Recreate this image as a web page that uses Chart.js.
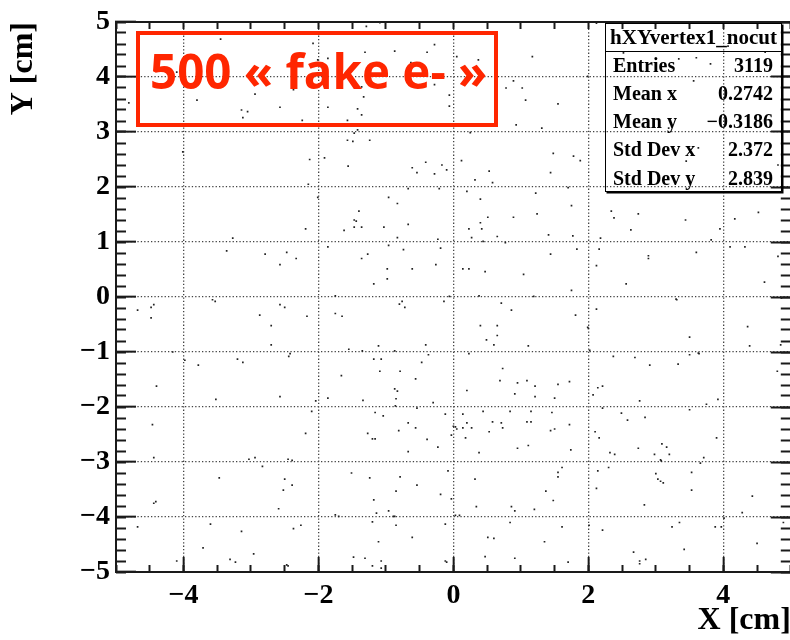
<!DOCTYPE html>
<html>
<head>
<meta charset="utf-8">
<script src="https://cdn.jsdelivr.net/npm/chart.js@4.4.1/dist/chart.umd.min.js"></script>
<style>
  html, body { margin: 0; padding: 0; background: #fff; overflow: hidden; }
  #wrap { position: relative; width: 792px; height: 640px; }
  #tag { position: absolute; left: 136px; top: 31px; width: 362px; height: 96px; box-sizing: border-box; border: 4px solid #ff2600; }
  #tag span { position: absolute; left: 10px; top: 12px; font: 700 47.5px/47.5px 'Open Sans'; color: #ff2600; white-space: nowrap; }
  #stats { position: absolute; left: 605px; top: 23px; width: 177px; height: 169px; box-sizing: border-box;
           border: 1.5px solid #000; box-shadow: 1.5px 1.5px 0 #000; font: bold 20px 'Liberation Serif'; color: #000; }
  #stats .hd { height: 27px; line-height: 27px; text-align: center; border-bottom: 1.5px solid #000; font-size: 21px; }
  #stats .row { position: absolute; left: 7px; right: 8px; height: 28px; line-height: 28px; display: flex; justify-content: space-between; }
</style>
</head>
<body>
<div id="wrap">
  <canvas id="vtx" width="792" height="640"></canvas>
  <div id="tag"></div>
  <div id="stats"></div>
</div>
<script>
// vertex positions [x, y] in cm, grouped by region of the XY plane
const upperLeft = [
  [-3.45, 4.69], [-3.29, 4.78], [-2.08, 4.61], [-2.01, 4.31], [-1.86, 4.34], [-4.21, 4.15], [-4.01, 4.24], [-4.10, 4.09],
  [-2.94, 3.69], [-2.37, 3.77], [-3.80, 3.58], [-4.81, 3.53], [-2.57, 3.45], [-1.86, 3.45], [-3.14, 3.40], [-3.05, 3.37],
  [-3.12, 3.26], [-2.24, 3.21], [-4.01, 2.64], [-2.13, 2.50], [-1.91, 2.53], [-2.15, 2.05], [-2.01, 1.81], [-2.19, 1.24],
  [-3.27, 1.07], [-3.36, 0.84], [-2.79, 0.78], [-2.47, 0.81], [-2.33, 0.70], [-2.57, 0.59], [-1.86, 0.91], [-1.75, 0.02]
];
const upperMid = [
  [-1.09, 4.99], [-1.29, 4.92], [-1.29, 4.80], [-0.28, 4.59], [-1.31, 4.45], [-0.87, 4.47], [-0.39, 4.45], [-0.63, 4.26],
  [0.05, 4.37], [0.37, 4.31], [1.17, 4.37], [0.89, 3.93], [0.78, 3.80], [1.02, 3.80], [1.07, 3.58], [1.55, 3.51],
  [-0.28, 3.86], [-1.36, 3.82], [-1.33, 3.64], [-0.06, 3.67], [-0.06, 3.47], [-1.42, 3.42], [-1.36, 3.31], [-1.57, 3.21],
  [0.93, 3.13], [1.31, 3.07], [0.25, 2.99], [-1.42, 3.04], [-1.47, 2.98], [-1.57, 2.85], [-1.49, 2.83], [-1.24, 2.85],
  [1.48, 2.61], [-1.56, 2.38], [-0.61, 2.35], [-0.54, 2.26], [-0.41, 2.45], [-0.28, 2.24], [-0.17, 2.40], [-0.10, 2.31],
  [0.12, 2.48], [0.53, 2.29], [1.44, 2.26], [0.32, 2.13], [0.58, 2.08], [-0.67, 1.97], [-0.21, 1.97], [0.20, 1.92],
  [1.22, 1.89], [-0.96, 1.81], [-0.83, 1.70], [0.40, 1.78], [-1.40, 1.56], [-1.47, 1.40], [-1.44, 1.38], [-1.47, 1.27],
  [-1.36, 1.27], [-1.62, 1.21], [-1.03, 1.27], [-0.67, 1.32], [0.51, 1.45], [0.89, 1.45], [1.24, 1.51], [0.40, 1.35],
  [0.23, 1.24], [0.42, 1.24], [0.27, 1.08], [0.65, 1.10], [0.44, 1.01], [0.77, 0.99], [1.41, 1.13], [-0.83, 1.08],
  [-0.96, 0.94], [-0.23, 1.05], [-0.19, 0.89], [-0.74, 0.86], [-1.27, 0.78], [-1.36, 0.70], [1.44, 0.78], [-0.26, 0.59],
  [-0.98, 0.51], [-0.61, 0.51], [0.14, 0.51], [0.23, 0.51], [0.47, 0.46], [-0.98, 0.33], [-1.18, 0.24], [1.04, 0.41],
  [0.38, 0.02], [1.19, 0.01], [-0.06, 0.01]
];
const upperRight = [
  [2.12, 4.98], [1.99, 4.01], [3.34, 4.33], [3.60, 4.35], [3.81, 4.24], [3.56, 3.93], [4.62, 4.45], [2.52, 4.44],
  [4.07, 4.56], [3.19, 3.07], [3.63, 2.71], [3.45, 2.47], [4.81, 2.40], [1.78, 2.56], [1.88, 2.48], [1.70, 1.99],
  [1.75, 1.66], [2.34, 1.56], [2.38, 1.44], [2.74, 1.51], [3.44, 1.40], [2.63, 1.22], [3.95, 1.24], [4.17, 1.42],
  [4.52, 1.54], [1.77, 1.11], [2.18, 1.07], [1.83, 0.87], [2.16, 0.87], [2.89, 0.75], [2.89, 0.70], [3.60, 0.81],
  [3.82, 1.04], [4.10, 0.91], [4.32, 0.91], [2.12, 0.57], [2.56, 0.24], [1.75, 0.12], [4.61, 0.27], [4.81, 0.74],
  [3.30, -0.04]
];
const lowerLeft = [
  [-4.68, -0.24], [-4.48, -0.19], [-4.44, -0.14], [-4.48, -0.38], [-3.57, -0.05], [-3.53, -0.08], [-2.87, -0.33], [-2.70, -0.52],
  [-2.70, -0.87], [-2.57, -0.14], [-2.50, -0.19], [-2.17, -0.35], [-1.75, -0.30], [-1.65, -0.35], [-4.16, -1.00], [-3.98, -1.15],
  [-3.78, -1.24], [-3.20, -1.13], [-3.12, -1.19], [-2.42, -1.03], [-2.44, -1.08], [-4.40, -1.62], [-3.52, -1.86], [-2.57, -1.81],
  [-2.04, -1.89], [-2.10, -2.08], [-1.86, -1.84], [-1.66, -1.43], [-4.46, -2.32], [-2.19, -2.48], [-4.44, -2.92], [-3.03, -2.95],
  [-2.94, -2.92], [-2.83, -3.08], [-2.45, -2.95], [-2.39, -2.97], [-3.47, -3.29], [-2.50, -3.31], [-2.39, -3.42], [-2.52, -3.51],
  [-4.44, -3.75], [-4.41, -3.72], [-2.59, -3.85], [-1.75, -3.96], [-1.70, -3.99], [-4.68, -4.18], [-3.60, -4.13], [-3.14, -4.26],
  [-2.37, -4.21], [-2.26, -4.15], [-3.71, -4.56], [-2.96, -4.67], [-4.10, -4.80], [-3.31, -4.77], [-3.23, -4.82], [-2.47, -4.87],
  [-2.45, -4.89]
];
const lowerInner = [
  [-1.55, -0.95], [-1.35, -0.98], [-1.11, -0.89], [-1.18, -1.13], [-1.07, -1.13], [-1.09, -1.35], [-0.87, -0.98], [-0.87, -1.67],
  [-0.83, -1.71], [-0.85, -1.85], [-0.86, -1.98], [-1.34, -1.88], [-1.16, -2.10], [-1.04, -2.16], [-1.27, -2.48], [-1.20, -2.58],
  [-1.16, -2.58], [-0.81, -2.43], [-1.51, -3.20], [-1.24, -3.29], [-0.85, -3.53], [-1.18, -3.69], [-1.14, -3.93], [-0.96, -3.89],
  [-0.85, -4.15], [-1.20, -4.09], [-1.11, -4.45], [-1.48, -4.73], [-1.31, -4.75], [-1.20, -4.89], [-1.07, -4.80], [-1.07, -4.93]
];
const lowerMid = [
  [-0.80, -0.13], [-0.76, -0.08], [-0.72, -0.19], [-0.14, -0.08], [0.71, -0.11], [0.86, -0.24], [0.40, -0.52], [0.65, -0.52],
  [0.65, -0.70], [0.49, -0.78], [0.60, -0.87], [1.11, -0.89], [-0.41, -0.87], [-0.37, -1.05], [0.23, -1.03], [-0.47, -1.19],
  [0.73, -1.30], [-0.79, -1.35], [-0.56, -1.49], [0.69, -1.52], [0.95, -1.56], [1.09, -1.52], [1.21, -1.62], [1.55, -1.59],
  [0.20, -1.70], [0.91, -1.76], [1.21, -1.81], [1.50, -1.84], [-0.30, -1.92], [-0.54, -2.02], [0.44, -2.08], [0.84, -2.08],
  [1.15, -2.08], [1.46, -2.10], [-0.12, -2.13], [0.14, -2.13], [-0.67, -2.29], [0.20, -2.29], [0.58, -2.27], [0.71, -2.29],
  [1.09, -2.27], [1.15, -2.27], [0.00, -2.35], [0.03, -2.36], [0.05, -2.40], [0.14, -2.38], [0.27, -2.38], [0.73, -2.38],
  [-0.56, -2.38], [0.53, -2.45], [1.44, -2.43], [1.50, -2.40], [-0.03, -2.51], [0.18, -2.56], [-0.39, -2.59], [-0.23, -2.73],
  [0.95, -2.75], [1.11, -2.70], [-0.67, -2.81], [0.38, -2.83], [1.61, -3.10], [1.55, -3.19], [1.55, -3.27], [-0.79, -3.27],
  [-0.08, -3.16], [0.32, -3.31], [-0.54, -3.42], [-0.19, -3.59], [-0.03, -3.67], [1.37, -3.53], [1.48, -3.70], [0.34, -3.81],
  [0.86, -3.81], [0.91, -3.89], [1.20, -3.86], [-0.89, -3.99], [-0.87, -3.99], [0.03, -3.97], [0.09, -3.97], [-0.12, -4.13],
  [0.84, -4.10], [1.61, -4.18], [-0.61, -4.37], [0.51, -4.37], [0.60, -4.39], [1.35, -4.45], [-0.12, -4.80], [-0.10, -4.82],
  [0.47, -4.72], [0.91, -4.75]
];
const lowerRight = [
  [3.31, -0.05], [2.12, -0.22], [1.81, -0.33], [1.99, -0.55], [2.00, -0.57], [4.36, -0.54], [4.39, -0.89], [4.85, -0.87],
  [4.86, -0.02], [3.50, -0.73], [2.37, -1.08], [2.69, -1.10], [2.91, -1.24], [3.33, -1.22], [3.50, -1.05], [3.63, -1.02],
  [3.64, -1.03], [2.02, -0.97], [1.72, -1.54], [2.14, -1.65], [2.21, -1.62], [2.07, -1.78], [2.76, -1.89], [3.92, -1.86],
  [3.75, -1.95], [4.80, -1.35], [2.21, -2.02], [3.50, -2.05], [2.49, -2.11], [2.84, -2.19], [2.58, -2.24], [1.72, -2.32],
  [2.10, -2.45], [2.16, -2.56], [3.90, -2.56], [1.74, -2.78], [2.74, -2.75], [3.09, -2.67], [3.16, -2.73], [2.32, -2.83],
  [2.39, -2.86], [2.98, -2.86], [3.20, -2.86], [3.07, -2.96], [3.08, -2.98], [3.71, -2.92], [3.66, -3.02], [2.14, -3.16],
  [2.30, -3.10], [3.00, -3.21], [3.03, -3.31], [3.07, -3.35], [3.11, -3.38], [3.53, -3.19], [3.53, -3.51], [2.12, -3.48],
  [4.43, -3.62], [2.83, -3.78], [4.28, -3.92], [4.01, -4.02], [2.01, -4.15], [2.21, -4.24], [3.24, -4.18], [3.35, -4.10],
  [3.88, -4.18], [3.97, -4.18], [4.89, -4.10], [4.50, -4.48], [3.42, -4.59], [2.67, -4.64], [2.76, -4.80], [2.76, -4.85],
  [2.85, -4.77], [1.70, -4.82]
];

const xLabelTicks = [-4, -2, 0, 2, 4];
const yLabelTicks = [-5, -4, -3, -2, -1, 0, 1, 2, 3, 4, 5];
const statsTitle = 'hXYvertex1_nocut';
const statsNames = ['Entries', 'Mean x', 'Mean y', 'Std Dev x', 'Std Dev y'];
const statsValues = ['3119', '0.2742', '\u22120.3186', '2.372', '2.839'];
const tagText = '500 \u00ab fake e- \u00bb';

const SERIF = 'Liberation Serif';
const INK = '#1a1a1a';

function steps(lo, hi, d) {
  const out = [];
  for (let v = lo; v <= hi + 1e-9; v += d) out.push(Math.round(v * 100) / 100);
  return out;
}
function useTicks(vals) {
  return s => { s.ticks = vals.map(v => ({ value: v })); };
}
function minus(v) {
  return v < 0 ? '\u2212' + Math.abs(v) : String(v);
}
// fixed axis box size; label overhang must not push the frame inwards
function fixSize(size) {
  return s => {
    if (s.isHorizontal()) s.height = size; else s.width = size;
    s.paddingTop = 0; s.paddingBottom = 0; s.paddingLeft = 0; s.paddingRight = 0;
  };
}

// tick-only axes (ticks point into the frame, no labels, no grid)
function tickAxis(axis, position, weight, vals, len, size, showBorder) {
  return {
    type: 'linear', axis: axis, position: position, weight: weight, min: -5, max: 5,
    afterBuildTicks: useTicks(vals),
    afterFit: fixSize(size),
    grid: { drawOnChartArea: false, tickLength: -len, tickWidth: 2, tickColor: INK },
    border: { display: showBorder, color: INK, width: 2 },
    ticks: { display: false }
  };
}

const points = [].concat(upperLeft, upperMid, upperRight, lowerLeft, lowerInner, lowerMid, lowerRight)
  .map(p => ({ x: p[0], y: p[1] }));

const config = {
  type: 'scatter',
  data: {
    datasets: [{
      data: points,
      xAxisID: 'x',
      yAxisID: 'y',
      pointStyle: 'rect',
      pointRadius: 1.2,
      pointHoverRadius: 1.2,
      backgroundColor: '#222',
      borderWidth: 0
    }]
  },
  options: {
    responsive: false,
    animation: false,
    events: [],
    layout: { padding: { top: 22, right: 0, bottom: 0, left: 0 } },
    plugins: { legend: { display: false }, tooltip: { enabled: false } },
    scales: {
      x: {
        type: 'linear', position: 'bottom', weight: 1, min: -5, max: 5,
        afterBuildTicks: useTicks(xLabelTicks),
        afterFit: fixSize(68),
        grid: { color: '#444', lineWidth: 1.3, tickLength: -15, tickWidth: 2, tickColor: INK },
        border: { display: true, color: INK, width: 2, dash: [1.3, 2.1] },
        ticks: {
          autoSkip: false, maxRotation: 0, padding: 22, color: '#000',
          font: { family: SERIF, weight: 'bold', size: 28 },
          callback: v => minus(v)
        },
        title: {
          display: true, text: 'X [cm]', align: 'end', color: '#000',
          font: { family: SERIF, weight: 'bold', size: 32, lineHeight: 1 },
          padding: { top: 0, bottom: 3 }
        }
      },
      xMinor: tickAxis('x', 'bottom', 0, steps(-5, 5, 0.5), 7, 0, false),
      xTop: tickAxis('x', 'top', 0, steps(-5, 5, 0.5), 7, 0, true),
      y: {
        type: 'linear', position: 'left', weight: 1, min: -5, max: 5,
        afterBuildTicks: useTicks(yLabelTicks),
        afterFit: fixSize(116),
        grid: { color: '#444', lineWidth: 1.3, tickLength: -20, tickWidth: 2, tickColor: INK },
        border: { display: true, color: INK, width: 2, dash: [1.3, 2.1] },
        ticks: {
          autoSkip: false, padding: 26, color: '#000',
          font: { family: SERIF, weight: 'bold', size: 28 },
          callback: v => minus(v)
        },
        title: {
          display: true, text: 'Y [cm]', align: 'end', color: '#000',
          font: { family: SERIF, weight: 'bold', size: 32, lineHeight: 1 },
          padding: { top: 8, bottom: 0 }
        }
      },
      yMinor: tickAxis('y', 'left', 0, steps(-5, 5, 0.2), 10, 0, false),
      yRight: tickAxis('y', 'right', 1, yLabelTicks, 20, 1, false),
      yRightMinor: tickAxis('y', 'right', 0, steps(-5, 5, 0.2), 10, 0, false)
    }
  }
};

const vtxChart = new Chart(document.getElementById('vtx'), config);

// red caption box
const tag = document.getElementById('tag');
const tagSpan = document.createElement('span');
tagSpan.textContent = tagText;
tag.appendChild(tagSpan);

// statistics box
const stats = document.getElementById('stats');
const hd = document.createElement('div');
hd.className = 'hd';
hd.textContent = statsTitle;
stats.appendChild(hd);
statsNames.forEach((name, i) => {
  const row = document.createElement('div');
  row.className = 'row';
  row.style.top = (42 + i * 28.3 - 15.5) + 'px';
  const a = document.createElement('span');
  a.textContent = name;
  const b = document.createElement('span');
  b.textContent = statsValues[i];
  row.appendChild(a);
  row.appendChild(b);
  stats.appendChild(row);
});
</script>
</body>
</html>
